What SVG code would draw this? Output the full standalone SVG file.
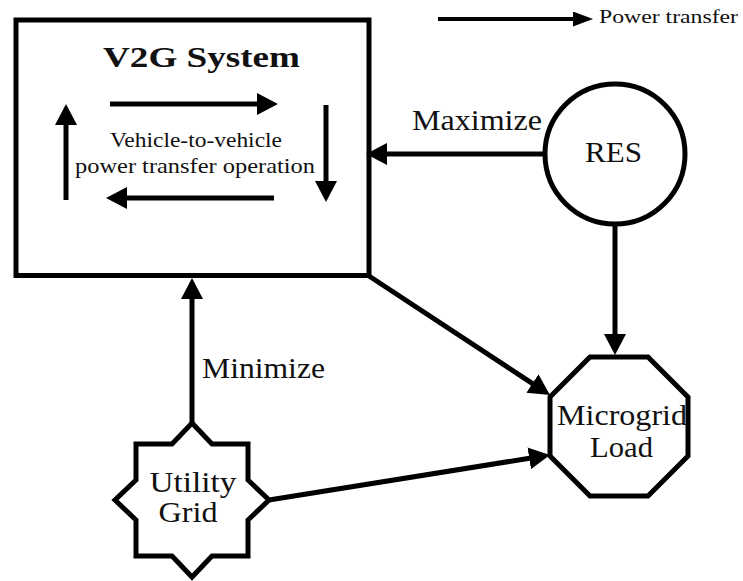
<svg xmlns="http://www.w3.org/2000/svg" width="743" height="581" viewBox="0 0 743 581">
<style>
.node{fill:#fff;stroke:#000;stroke-width:5}
.conn{stroke:#000;stroke-width:5;fill:none}
text{fill:#111;text-anchor:middle}
.st{text-anchor:start}
</style>
<defs>
<marker id="ah" markerUnits="userSpaceOnUse" markerWidth="22" markerHeight="22" refX="2" refY="11" orient="auto">
<path d="M0,0 L21,11 L0,22 z" fill="#000"/>
</marker>
<marker id="ahs" markerUnits="userSpaceOnUse" markerWidth="20" markerHeight="16" refX="2" refY="7.5" orient="auto">
<path d="M0,0 L20,7.5 L0,15 z" fill="#000"/>
</marker>
</defs>
<rect width="743" height="581" fill="#fff"/>
<g font-family="Liberation Serif, Times New Roman, Times, Tinos, DejaVu Serif, Noto Serif, FreeSerif, serif">
<g id="legend">
<line x1="438" y1="19" x2="575" y2="19" stroke="#000" stroke-width="4" marker-end="url(#ahs)"/>
<text class="st" x="599" y="23" font-size="18" textLength="139" lengthAdjust="spacingAndGlyphs">Power transfer</text>
</g>

<g id="v2g">
<rect class="node" x="16" y="20" width="353" height="255.5"/>
<text x="201.5" y="67" font-size="30" font-weight="bold" textLength="197" lengthAdjust="spacingAndGlyphs">V2G System</text>
<g class="conn" marker-end="url(#ah)">
<line x1="110" y1="104" x2="259" y2="104"/>
<line x1="326" y1="105" x2="326" y2="183"/>
<line x1="274" y1="198" x2="125" y2="198"/>
<line x1="66" y1="200" x2="66" y2="123"/>
</g>
<text x="196" y="147" font-size="22" textLength="172" lengthAdjust="spacingAndGlyphs">Vehicle-to-vehicle</text>
<text x="195" y="173" font-size="22" textLength="240" lengthAdjust="spacingAndGlyphs">power transfer operation</text>
</g>

<g id="res">
<circle class="node" cx="615" cy="154" r="70"/>
<text x="613.5" y="162" font-size="29" textLength="57" lengthAdjust="spacingAndGlyphs">RES</text>
</g>

<g id="microgrid">
<polygon class="node" points="590,357 648,357 688,397 688,456 648,496 590,496 550,456 550,397"/>
<text x="622" y="425" font-size="29" textLength="130" lengthAdjust="spacingAndGlyphs">Microgrid</text>
<text x="621.5" y="457" font-size="29" textLength="63" lengthAdjust="spacingAndGlyphs">Load</text>
</g>

<g id="utility">
<polygon class="node" points="192,423 212,444 248,444 248,480 269,500 248,520 248,556 212,556 192,577 172,556 136,556 136,520 115,500 136,480 136,444 172,444"/>
<text x="193" y="492" font-size="29" textLength="87" lengthAdjust="spacingAndGlyphs">Utility</text>
<text x="188" y="522" font-size="29" textLength="59" lengthAdjust="spacingAndGlyphs">Grid</text>
</g>

<g id="connectors" class="conn" marker-end="url(#ah)">
<line x1="545" y1="154" x2="385" y2="154"/>
<line x1="615" y1="224" x2="615" y2="336"/>
<line x1="369" y1="276" x2="534.1" y2="384.6"/>
<line x1="269" y1="500" x2="531.2" y2="458"/>
<line x1="192" y1="423" x2="192" y2="297"/>
</g>

<g id="labels">
<text class="st" x="412" y="130" font-size="30" textLength="130" lengthAdjust="spacingAndGlyphs">Maximize</text>
<text class="st" x="202" y="378" font-size="30" textLength="123" lengthAdjust="spacingAndGlyphs">Minimize</text>
</g>
</g>
</svg>
